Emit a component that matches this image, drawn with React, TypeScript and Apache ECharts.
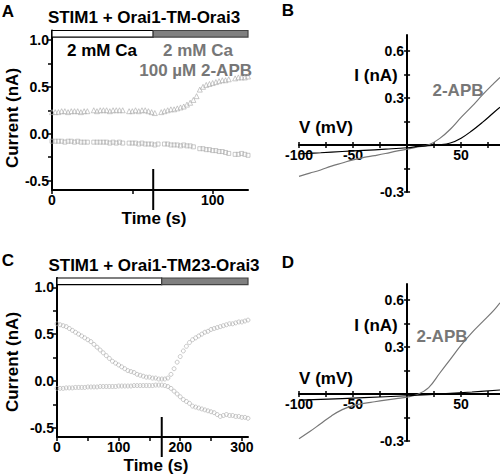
import React, { useEffect, useRef } from "react";
import * as echarts from "echarts";

// ---------- Panel A data ----------
const aTime = [0, 2, 4, 6, 8, 10, 12, 14, 16, 18, 20, 22, 24, 26, 28, 30, 32, 34, 36, 38, 40, 42, 44, 46, 48, 50, 52, 54, 56, 58, 60, 62, 64, 66, 68, 70, 72, 74, 76, 78, 80, 82, 84, 86, 88, 90, 92, 94, 96, 98, 100, 102, 104, 106, 108, 110, 112, 114, 116, 118, 120, 122];
const aTriangles = [0.23, 0.23, 0.23, 0.24, 0.24, 0.23, 0.24, 0.24, 0.24, 0.23, 0.24, 0.24, null, 0.25, 0.24, 0.25, 0.25, 0.25, 0.24, 0.25, 0.25, 0.25, 0.25, null, 0.24, 0.24, 0.25, 0.24, 0.25, 0.25, 0.24, 0.23, 0.22, null, 0.23, 0.24, 0.25, 0.26, 0.26, 0.27, 0.28, 0.29, 0.31, 0.33, 0.36, 0.40, 0.47, 0.50, 0.52, 0.53, 0.54, 0.55, 0.56, 0.57, 0.57, 0.58, null, 0.59, 0.60, 0.60, 0.60, 0.61];
const aSquares = [-0.08, -0.08, -0.08, -0.08, -0.09, -0.08, -0.08, -0.09, -0.08, -0.09, -0.09, -0.09, null, -0.09, -0.09, -0.09, -0.09, -0.09, -0.10, -0.09, -0.10, -0.09, -0.10, null, -0.10, -0.10, -0.10, -0.11, -0.10, -0.11, -0.11, -0.11, -0.12, -0.11, null, -0.11, -0.11, -0.12, -0.12, -0.12, -0.13, -0.12, -0.13, -0.13, -0.14, null, -0.16, -0.16, -0.17, -0.17, -0.18, -0.18, -0.19, -0.19, -0.20, -0.21, null, -0.22, -0.22, -0.21, -0.22, -0.23];
const aSwitchTime = 63;
const aEndTime = 122;

// ---------- Panel C data ----------
const cTime = [0, 5, 10, 15, 20, 25, 30, 35, 40, 45, 50, 55, 60, 65, 70, 75, 80, 85, 90, 95, 100, 105, 110, 115, 120, 125, 130, 135, 140, 145, 150, 155, 160, 165, 170, 175, 180, 185, 190, 195, 200, 205, 210, 215, 220, 225, 230, 235, 240, 245, 250, 255, 260, 265, 270, 275, 280, 285, 290, 295, 300, 305, 310];
const cUpper = [0.61, 0.6, 0.59, 0.58, 0.56, 0.54, 0.52, 0.5, 0.48, 0.46, 0.44, 0.42, 0.39, 0.36, 0.33, 0.3, 0.27, 0.24, 0.21, 0.19, 0.17, 0.15, 0.13, 0.11, 0.1, 0.09, 0.07, 0.06, 0.05, 0.04, 0.04, 0.03, 0.03, 0.02, 0.02, 0.02, 0.03, 0.07, 0.13, 0.2, 0.26, 0.32, 0.37, 0.41, 0.44, 0.46, 0.48, 0.5, 0.52, 0.53, 0.55, 0.56, 0.57, 0.58, 0.59, 0.6, 0.61, 0.61, 0.62, 0.63, 0.63, 0.64, 0.65];
const cLower = [-0.08, -0.08, -0.08, -0.075, -0.075, -0.075, -0.07, -0.07, -0.07, -0.07, -0.065, -0.065, -0.065, -0.065, -0.06, -0.06, -0.06, -0.06, -0.06, -0.06, -0.055, -0.055, -0.055, -0.055, -0.055, -0.05, -0.05, -0.05, -0.05, -0.05, -0.05, -0.05, -0.045, -0.045, -0.045, -0.05, -0.06, -0.08, -0.11, -0.14, -0.17, -0.2, -0.22, -0.24, -0.27, -0.28, -0.29, -0.3, -0.31, -0.32, -0.33, -0.34, -0.36, -0.38, -0.37, -0.36, -0.37, -0.37, -0.38, -0.38, -0.39, -0.39, -0.4];
const cSwitchTime = 170;
const cEndTime = 310;

// ---------- Panel B / D data (I-V curves) ----------
const bVoltGray = [-100, -90, -80, -70, -60, -50, -40, -30, -20, -10, 0, 10, 20, 30, 40, 50, 60, 70, 80, 86];
const bGray = [-0.2, -0.18, -0.16, -0.135, -0.115, -0.095, -0.08, -0.068, -0.055, -0.04, -0.027, -0.013, 0.0, 0.04, 0.1, 0.175, 0.245, 0.32, 0.39, 0.43];
const bVoltBlack = [-100, -80, -60, -40, -20, 0, 10, 20, 30, 40, 50, 60, 70, 80, 86];
const bBlack = [-0.057, -0.05, -0.042, -0.035, -0.027, -0.018, -0.01, -0.004, 0.0, 0.012, 0.043, 0.09, 0.145, 0.205, 0.24];

const dVoltGray = [-100, -90, -80, -70, -60, -50, -40, -30, -20, -10, 0, 10, 20, 30, 40, 50, 60, 70, 80, 86];
const dGray = [-0.285, -0.24, -0.19, -0.14, -0.1, -0.075, -0.06, -0.05, -0.04, -0.03, -0.02, -0.002, 0.04, 0.13, 0.22, 0.31, 0.39, 0.46, 0.53, 0.58];
const dVoltBlack = [-100, -60, -20, 20, 60, 86];
const dBlack = [-0.04, -0.03, -0.018, -0.005, 0.012, 0.025];

// ---------- axis ranges and ticks ----------
const currMin = -0.6;
const currMax = 1.1;
const currentTickLabels = [-0.5, 0, 0.5, 1.0];
const currentTicks = [-0.5, -0.25, 0, 0.25, 0.5, 0.75, 1.0];
const aTimeLabels = [0, 100];
const aTimeTicks = [0, 50, 100];
const cTimeLabels = [0, 100, 200, 300];
const cTimeTicks = [0, 50, 100, 150, 200, 250, 300];
const ivVoltMin = -100;
const ivVoltMax = 86;
const ivCurrMin = -0.3;
const ivCurrMax = 0.7;
const ivVoltLabels = [-100, -50, 50];
const ivVoltTicks = [-100, -75, -50, -25, 25, 50, 75];
const ivCurrLabels = [-0.3, 0.3, 0.6];
const ivCurrTicks = [-0.3, -0.15, 0.15, 0.3, 0.45, 0.6];

const FONT = '"Liberation Sans", Arial, sans-serif';
const GRAY_TEXT = "#777777";
const BAR_GRAY = "#808080";
const MARK_GRAY = "#aaaaaa";

const pairs = (xs: number[], ys: (number | null)[]) =>
  xs.map((x, i) => [x, ys[i]]).filter((p) => p[1] !== null);

const IV_W = 201;
const IV_H = 157;

export default function App() {
  const ref = useRef<HTMLDivElement>(null);
  useEffect(() => {
    if (!ref.current) return;
    const chart = echarts.init(ref.current, undefined, { renderer: "svg" });

    const tickLabel = { fontFamily: FONT, fontWeight: "bold" as const, fontSize: 14, color: "#000" };
    const axisLineStyle = { color: "#000", width: 2 };
    const tickStyle = { color: "#000", width: 1.5 };

    const timeX = (grid: number, max: number, labels: number[], ticks: number[]) => ({
      type: "value", gridIndex: grid, min: 0, max,
      axisLine: { onZero: false, lineStyle: axisLineStyle },
      axisTick: { customValues: ticks, length: 4, lineStyle: tickStyle },
      axisLabel: { customValues: labels, margin: 3, ...tickLabel, formatter: (v: number) => String(v) },
      splitLine: { show: false },
    });
    const currY = (grid: number) => ({
      type: "value", gridIndex: grid, min: currMin, max: currMax,
      axisLine: { show: true, onZero: false, lineStyle: axisLineStyle },
      axisTick: { show: true, customValues: currentTicks, length: 4, lineStyle: tickStyle },
      axisLabel: { customValues: currentTickLabels, margin: 3, ...tickLabel, formatter: (v: number) => v.toFixed(1) },
      splitLine: { show: false },
    });
    // place the axes of the I-V plots through the origin with an offset derived from the ranges
    const xOffset = -((0 - ivCurrMin) / (ivCurrMax - ivCurrMin)) * IV_H;
    const yOffset = -((0 - ivVoltMin) / (ivVoltMax - ivVoltMin)) * IV_W;
    const ivX = (grid: number, inner: boolean) => ({
      type: "value", gridIndex: grid, min: ivVoltMin, max: ivVoltMax, position: "bottom", offset: xOffset,
      axisLine: { show: !inner, onZero: false, lineStyle: axisLineStyle },
      axisTick: { show: true, inside: inner, customValues: ivVoltTicks, length: 3, lineStyle: tickStyle },
      axisLabel: { show: !inner, customValues: ivVoltLabels, margin: 3, ...tickLabel, formatter: (v: number) => String(v) },
      splitLine: { show: false },
    });
    const ivY = (grid: number, inner: boolean) => ({
      type: "value", gridIndex: grid, min: ivCurrMin, max: ivCurrMax, position: "left", offset: yOffset,
      axisLine: { show: !inner, onZero: false, lineStyle: axisLineStyle },
      axisTick: { show: true, inside: inner, customValues: ivCurrTicks, length: 3, lineStyle: tickStyle },
      axisLabel: { show: !inner, customValues: ivCurrLabels, margin: 3, ...tickLabel, formatter: (v: number) => v.toFixed(1) },
      splitLine: { show: false },
    });

    const barArea = (switchT: number, endT: number) => ({
      silent: true,
      itemStyle: { borderColor: "#000", borderWidth: 1.2 },
      data: [
        [{ xAxis: 0, yAxis: 1.03, itemStyle: { color: "#ffffff" } }, { xAxis: switchT, yAxis: currMax }],
        [{ xAxis: switchT, yAxis: 1.03, itemStyle: { color: BAR_GRAY, borderColor: "#444" } }, { xAxis: endT, yAxis: currMax }],
      ],
    });

    const hollow = (color: string) => ({ color: "transparent", borderColor: color, borderWidth: 0.8 });

    const option: any = {
      animation: false,
      grid: [
        { left: 52, top: 30.5, width: 196, height: 159.5 },
        { left: 299, top: 35, width: IV_W, height: IV_H },
        { left: 57, top: 278, width: 191, height: 159 },
        { left: 299, top: 284, width: IV_W, height: IV_H },
      ],
      xAxis: [
        timeX(0, aEndTime, aTimeLabels, aTimeTicks),
        ivX(1, false),
        ivX(1, true),
        timeX(2, cEndTime, cTimeLabels, cTimeTicks),
        ivX(3, false),
        ivX(3, true),
      ],
      yAxis: [
        currY(0),
        ivY(1, false),
        ivY(1, true),
        currY(2),
        ivY(3, false),
        ivY(3, true),
      ],
      series: [
        {
          type: "scatter", xAxisIndex: 0, yAxisIndex: 0, symbol: "triangle", symbolSize: 5,
          itemStyle: hollow(MARK_GRAY), data: pairs(aTime, aTriangles),
          markArea: barArea(aSwitchTime, aEndTime),
        },
        {
          type: "scatter", xAxisIndex: 0, yAxisIndex: 0, symbol: "rect", symbolSize: 4,
          itemStyle: hollow(MARK_GRAY), data: pairs(aTime, aSquares),
        },
        {
          type: "scatter", xAxisIndex: 3, yAxisIndex: 3, symbol: "circle", symbolSize: 4,
          itemStyle: hollow(MARK_GRAY), data: pairs(cTime, cUpper),
          markArea: barArea(cSwitchTime, cEndTime),
        },
        {
          type: "scatter", xAxisIndex: 3, yAxisIndex: 3, symbol: "circle", symbolSize: 4,
          itemStyle: hollow(MARK_GRAY), data: pairs(cTime, cLower),
        },
        {
          type: "line", xAxisIndex: 1, yAxisIndex: 1, smooth: 0.4, showSymbol: false,
          lineStyle: { color: "#777", width: 1.2 }, data: pairs(bVoltGray, bGray),
        },
        {
          type: "line", xAxisIndex: 1, yAxisIndex: 1, smooth: 0.4, showSymbol: false,
          lineStyle: { color: "#000", width: 1.2 }, data: pairs(bVoltBlack, bBlack),
        },
        {
          type: "line", xAxisIndex: 4, yAxisIndex: 4, smooth: 0.4, showSymbol: false,
          lineStyle: { color: "#777", width: 1.2 }, data: pairs(dVoltGray, dGray),
        },
        {
          type: "line", xAxisIndex: 4, yAxisIndex: 4, smooth: 0.4, showSymbol: false,
          lineStyle: { color: "#000", width: 1.2 }, data: pairs(dVoltBlack, dBlack),
        },
      ],
    };
    chart.setOption(option);

    const txt = (text: string, x: number, y: number, opts: any = {}) => ({
      type: "text", x, y, rotation: opts.rotation || 0,
      style: {
        text, fill: opts.fill || "#000",
        font: `bold ${opts.size || 17}px ${FONT}`,
        textAlign: opts.align || "center", textVerticalAlign: "middle",
      },
    });

    const aBase = chart.convertToPixel({ xAxisIndex: 0, yAxisIndex: 0 }, [aSwitchTime, currMin]) as number[];
    const cBase = chart.convertToPixel({ xAxisIndex: 3, yAxisIndex: 3 }, [cSwitchTime, currMin]) as number[];

    chart.setOption({
      graphic: [
        txt("A", 8, 11),
        txt("STIM1 + Orai1-TM-Orai3", 144, 17),
        txt("2 mM Ca", 102, 50),
        txt("2 mM Ca", 198, 50, { fill: GRAY_TEXT }),
        txt("100 µM 2-APB", 252, 70, { fill: GRAY_TEXT, align: "right" }),
        txt("Current (nA)", 12, 118, { rotation: Math.PI / 2 }),
        txt("Time (s)", 154, 218),
        txt("B", 288, 10),
        txt("I (nA)", 376, 75),
        txt("V (mV)", 326, 127),
        txt("2-APB", 458, 90, { fill: GRAY_TEXT }),
        txt("C", 8, 260),
        txt("STIM1 + Orai1-TM23-Orai3", 154, 265),
        txt("Current (nA)", 12, 362, { rotation: Math.PI / 2 }),
        txt("Time (s)", 156, 465),
        txt("D", 288, 262),
        txt("I (nA)", 376, 325),
        txt("V (mV)", 326, 378),
        txt("2-APB", 442, 336, { fill: GRAY_TEXT }),
        {
          type: "line", z: 100,
          shape: { x1: aBase[0], y1: aBase[1] - 21, x2: aBase[0], y2: aBase[1] + 20 },
          style: { stroke: "#000", lineWidth: 2 },
        },
        {
          type: "line", z: 100,
          shape: { x1: cBase[0], y1: cBase[1] - 20, x2: cBase[0], y2: cBase[1] + 20 },
          style: { stroke: "#000", lineWidth: 2 },
        },
      ],
    });

    return () => chart.dispose();
  }, []);
  return <div ref={ref} style={{ position: "absolute", left: 0, top: 0, width: 500, height: 476 }} />;
}
